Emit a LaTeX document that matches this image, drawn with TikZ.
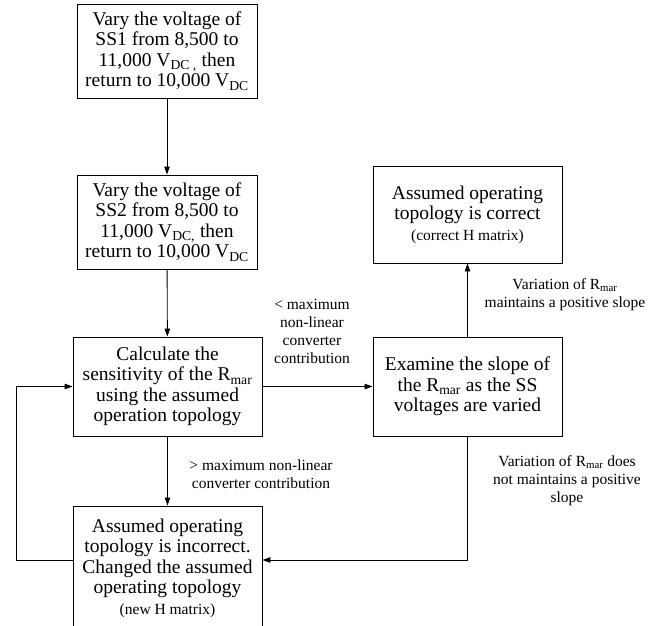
\documentclass[tikz,border=0pt]{standalone}
\usepackage{fontspec}
\setmainfont{Liberation Serif}
\usetikzlibrary{arrows.meta}
\newcommand{\subtx}[1]{\textsubscript{#1}}
\tikzset{
  flowbox/.style={draw, line width=0.9pt, align=center, inner sep=0pt,
    font=\fontsize{19.5}{20.5}\selectfont},
  lbl/.style={align=center, inner sep=0pt, font=\fontsize{15.5}{18}\selectfont},
  conn/.style={line width=0.9pt, -{Triangle[length=8pt,width=5.5pt]}},
  plain/.style={line width=0.9pt}
}
\begin{document}
\begin{tikzpicture}[x=1pt,y=-1pt]
\useasboundingbox (0,0) rectangle (662,626);
\node[flowbox, minimum width=180pt, minimum height=94pt] (b1) at (167,51)
  {Vary the voltage of\\SS1 from 8,500 to\\11,000 V\subtx{DC ,} then\\return to 10,000 V\subtx{DC}};
\node[flowbox, minimum width=180pt, minimum height=94pt] (b2) at (167,222)
  {Vary the voltage of\\SS2 from 8,500 to\\11,000 V\subtx{DC,} then\\return to 10,000 V\subtx{DC}};
\node[flowbox, minimum width=189pt, minimum height=99pt] (b3) at (167.5,386.5)
  {Calculate the\\sensitivity of the R\subtx{mar}\\using the assumed\\operation topology};
\node[flowbox, minimum width=189pt, minimum height=99pt] (b4) at (467.5,386.5)
  {Examine the slope of\\the R\subtx{mar} as the SS\\voltages are varied};
\node[flowbox, minimum width=189pt, minimum height=97pt] (b5) at (467.5,214.5)
  {Assumed operating\\topology is correct\\{\fontsize{15.5}{17}\selectfont (correct H matrix)}};
\node[flowbox, minimum width=189pt, minimum height=124pt] (b6) at (167.5,568)
  {Assumed operating\\topology is incorrect.\\Changed the assumed\\operating topology\\{\fontsize{15.5}{17}\selectfont (new H matrix)}};

\node[lbl] (lt) at (312,331) {< maximum\\non-linear\\converter\\contribution};
\node[lbl] (gt) at (261,474) {> maximum non-linear\\converter contribution};
\node[lbl] (v1) at (565,295) {Variation of R\subtx{mar}\\maintains a positive slope};
\node[lbl] (v2) at (567,481) {Variation of R\subtx{mar} does\\not maintains a positive\\slope};

\coordinate (lp) at (16,560);
\draw[conn] (b1) -- (b2);
\draw[conn] (b2) -- (b3);
\draw[conn] (b3) -- (b4);
\draw[conn] (b4) -- (b5);
\draw[conn] (b3) -- (b6);
\draw[conn] (b4.south) |- (b6.east |- lp);
\draw[conn] (b6.west |- lp) -- (lp) |- (b3.west);
\end{tikzpicture}
\end{document}
